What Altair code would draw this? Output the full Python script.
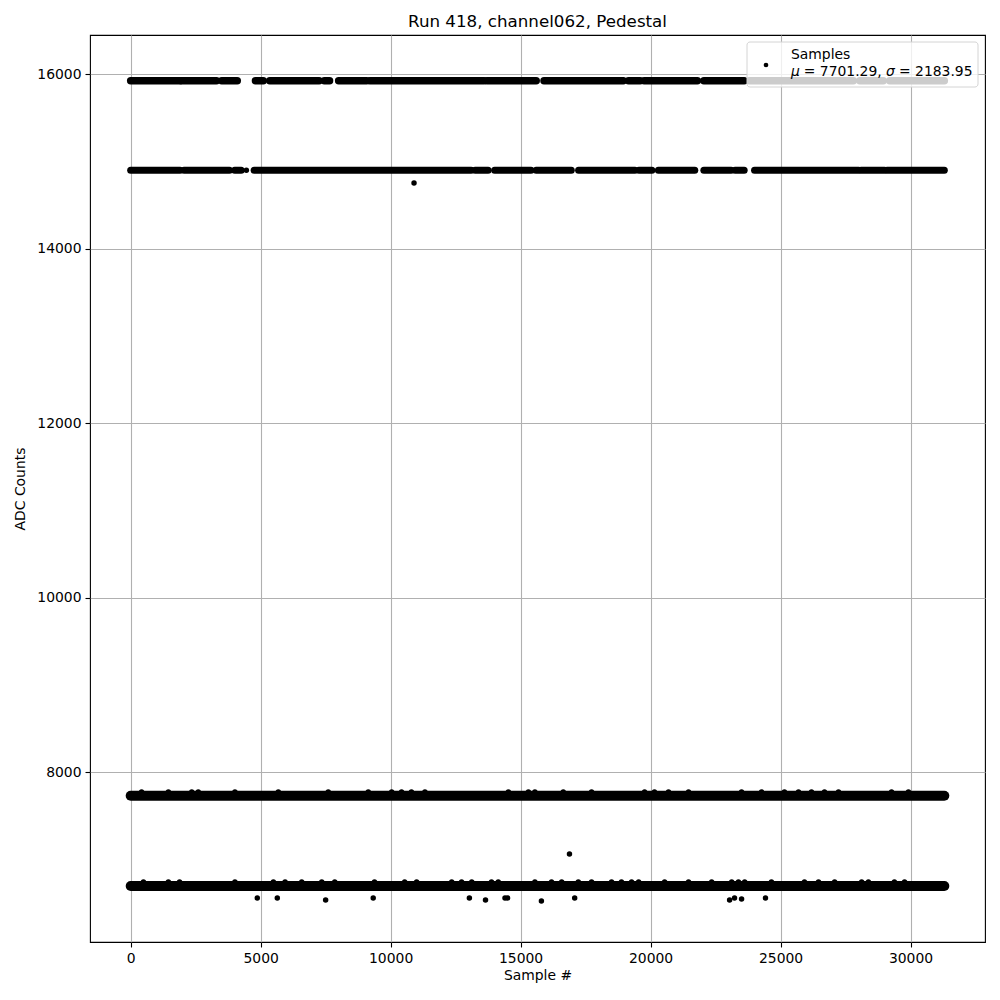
import altair as alt
import pandas as pd

# ---- data ----
# sparse band near 15920 ADC: runs of samples (start, end)
top_seg_start = [0, 1950, 3500, 4800, 5350, 7450, 8000, 9200, 13700, 15900, 19150, 19750, 22050, 23800, 28050, 29200]
top_seg_end = [1900, 3300, 4100, 5100, 7250, 7650, 9080, 13600, 15600, 18950, 19600, 21800, 23600, 27800, 28950, 31300]
top_level = 15922

# sparse band near 14900 ADC
mid_seg_start = [0, 2050, 4000, 4750, 13250, 14000, 15600, 17230, 19550, 20300, 22050, 23250, 24000, 28100, 29100]
mid_seg_end = [1900, 3800, 4250, 13100, 13750, 15400, 16950, 19400, 20050, 21700, 23100, 23600, 28000, 29000, 31300]
mid_level = 14896

# dense bands
dense_start = [0, 0]
dense_end = [31300, 31300]
dense_level = [7728, 6693]

# samples sticking out of the dense bands
band3_bump_x = [420, 1450, 2350, 2600, 4010, 5680, 7600, 9140, 10040, 10420, 10800, 11320, 14530, 15300, 15550,
                16640, 17730, 19770, 20150, 20690, 21460, 23500, 24270, 25150, 25690, 26190, 26690, 27230, 29270, 29920]
band3_bump_y = 7771
band4_bump_x = [490, 1450, 1880, 4010, 5490, 5940, 6580, 7350, 7850, 9380, 10540, 11000, 12350, 12730, 13120, 13880,
                14140, 15550, 16190, 16580, 17220, 17730, 18500, 18880, 19270, 19540, 20540, 21460, 22350, 23120,
                23380, 23620, 24650, 25920, 26460, 27080, 28120, 28380, 29380, 29770]
band4_bump_y = 6739

# isolated samples / outliers
outlier_x = [4870, 5640, 7500, 9330, 13030, 13650, 14400, 14500, 15800, 17080, 23040, 23230, 23500, 24420, 16880, 10900, 4450, 23800]
outlier_y = [6556, 6556, 6533, 6556, 6556, 6533, 6556, 6556, 6521, 6556, 6533, 6556, 6545, 6556, 7060, 14750, 14896, 15925]

title_text = "Run 418, channel062, Pedestal"
x_title = "Sample #"
y_title = "ADC Counts"
legend_line1 = "Samples"
mean_val = "7701.29"
sigma_val = "2183.95"
x_ticks = [0, 5000, 10000, 15000, 20000, 25000, 30000]
y_ticks = [8000, 10000, 12000, 14000, 16000]

# ---- tables ----
dense_df = pd.DataFrame({"x": dense_start, "x2": dense_end, "y": dense_level})
top_df = pd.DataFrame({"x": top_seg_start, "x2": top_seg_end, "y": [top_level] * len(top_seg_start)})
mid_df = pd.DataFrame({"x": mid_seg_start, "x2": mid_seg_end, "y": [mid_level] * len(mid_seg_start)})
pts_df = pd.DataFrame({
    "x": band3_bump_x + band4_bump_x + outlier_x,
    "y": [band3_bump_y] * len(band3_bump_x) + [band4_bump_y] * len(band4_bump_x) + outlier_y,
})

FONT = "DejaVu Sans"
W, H = 895, 907
xscale = alt.Scale(domain=[-1565, 32865], nice=False, zero=False)
yscale = alt.Scale(domain=[6052, 16447], nice=False, zero=False)

xenc = alt.X("x:Q", scale=xscale,
             axis=alt.Axis(values=x_ticks, format="d", title=x_title, titlePadding=4))
yenc = alt.Y("y:Q", scale=yscale,
             axis=alt.Axis(values=y_ticks, format="d", title=y_title, titlePadding=9))

dense = alt.Chart(dense_df).mark_rule(strokeWidth=10, strokeCap="round", color="black").encode(
    x=xenc, x2="x2:Q", y=yenc)
top = alt.Chart(top_df).mark_rule(strokeWidth=7.5, strokeCap="round", color="black").encode(
    x="x:Q", x2="x2:Q", y="y:Q")
mid = alt.Chart(mid_df).mark_rule(strokeWidth=7, strokeCap="round", color="black").encode(
    x="x:Q", x2="x2:Q", y="y:Q")
pts = alt.Chart(pts_df).mark_circle(size=30, color="black", opacity=1).encode(x="x:Q", y="y:Q")

one = alt.Data(values=[{"k": 1}])
# legend frame: translucent white fill drawn over the samples, then a thin border
leg_fill = alt.Chart(one).mark_rect(color="white", opacity=0.8, cornerRadius=3).encode(
    x=alt.value(657), x2=alt.value(888), y=alt.value(7), y2=alt.value(52))
leg_border = alt.Chart(one).mark_rect(filled=False, stroke="#d4d4d4", strokeWidth=1, cornerRadius=3).encode(
    x=alt.value(657), x2=alt.value(888), y=alt.value(7), y2=alt.value(52))
leg_dot = alt.Chart(one).mark_circle(size=22, color="black", opacity=1).encode(
    x=alt.value(676), y=alt.value(30))


def txt(s, xpx, ypx, italic=False, size=13.9, align="left", baseline="middle"):
    return alt.Chart(one).mark_text(text=s, font=FONT, fontSize=size, align=align, baseline=baseline,
                                    color="black", fontStyle="italic" if italic else "normal").encode(
        x=alt.value(xpx), y=alt.value(ypx))


leg_texts = [
    txt(legend_line1, 701, 20),
    txt("μ", 701, 37, italic=True),
    txt("= " + mean_val + ",", 713.8, 37),
    txt("σ", 796, 37, italic=True),
    txt("= " + sigma_val, 809, 37),
]
title_mark = txt(title_text, W / 2, -8.3, size=16.7, align="center", baseline="alphabetic")

chart = alt.layer(dense, top, mid, pts, leg_fill, leg_border, leg_dot, *leg_texts, title_mark).properties(
    width=W, height=H,
    padding={"left": 82, "top": 27, "right": 7, "bottom": 50},
    autosize=alt.AutoSizeParams(type="none"),
).configure_view(stroke="black", strokeWidth=1.1).configure_axis(
    labelFont=FONT, labelFontSize=13.9, labelColor="black", titleFont=FONT, titleFontSize=13.9,
    titleFontWeight="normal", titleColor="black", tickColor="black", tickSize=5, tickWidth=1.1,
    domain=False, grid=True, gridColor="#b0b0b0", gridWidth=1.1, labelPadding=4, labelFlush=False,
    labelOverlap=False,
)

chart.save("out.html", embed_options={"renderer": "svg", "actions": False})
